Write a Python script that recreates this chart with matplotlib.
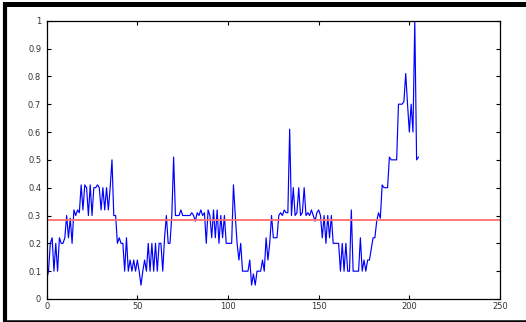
import numpy as np
import matplotlib.pyplot as plt
from matplotlib.lines import Line2D

# series values, one per sample index
signal = [
    0.07, 0.10, 0.20, 0.22, 0.10, 0.20, 0.10, 0.22, 0.20, 0.20,
    0.22, 0.30, 0.22, 0.29, 0.20, 0.32, 0.30, 0.32, 0.31, 0.41,
    0.32, 0.41, 0.40, 0.30, 0.41, 0.30, 0.40, 0.40, 0.41, 0.40,
    0.32, 0.40, 0.32, 0.40, 0.32, 0.40, 0.50, 0.30, 0.30, 0.20,
    0.22, 0.20, 0.20, 0.10, 0.22, 0.10, 0.14, 0.10, 0.14, 0.10,
    0.14, 0.10, 0.05, 0.10, 0.14, 0.10, 0.20, 0.10, 0.20, 0.10,
    0.20, 0.10, 0.20, 0.20, 0.10, 0.22, 0.30, 0.20, 0.20, 0.30,
    0.51, 0.30, 0.30, 0.30, 0.32, 0.30, 0.30, 0.30, 0.30, 0.30,
    0.31, 0.30, 0.28, 0.31, 0.30, 0.32, 0.30, 0.31, 0.20, 0.32,
    0.30, 0.22, 0.32, 0.22, 0.32, 0.20, 0.30, 0.22, 0.30, 0.20,
    0.20, 0.20, 0.20, 0.41, 0.30, 0.20, 0.14, 0.20, 0.10, 0.10,
    0.10, 0.10, 0.14, 0.05, 0.09, 0.05, 0.10, 0.10, 0.10, 0.14,
    0.10, 0.22, 0.14, 0.20, 0.30, 0.22, 0.22, 0.22, 0.30, 0.31,
    0.30, 0.32, 0.31, 0.31, 0.61, 0.30, 0.40, 0.30, 0.31, 0.40,
    0.30, 0.31, 0.40, 0.30, 0.31, 0.30, 0.32, 0.30, 0.28, 0.31,
    0.32, 0.30, 0.22, 0.30, 0.20, 0.30, 0.22, 0.30, 0.20, 0.20,
    0.20, 0.20, 0.10, 0.20, 0.10, 0.20, 0.10, 0.10, 0.32, 0.10,
    0.10, 0.10, 0.10, 0.22, 0.10, 0.14, 0.10, 0.14, 0.14, 0.18,
    0.22, 0.22, 0.28, 0.31, 0.29, 0.41, 0.40, 0.40, 0.40, 0.51,
    0.50, 0.50, 0.50, 0.50, 0.70, 0.70, 0.70, 0.71, 0.81, 0.70,
    0.60, 0.70, 0.60, 1.00, 0.50, 0.51,
]
threshold = 0.285

x_ticks = [0, 50, 100, 150, 200, 250]
y_ticks = [0, 0.1, 0.2, 0.3, 0.4, 0.5, 0.6, 0.7, 0.8, 0.9, 1]
y_labels = ["0", "0.1", "0.2", "0.3", "0.4", "0.5", "0.6", "0.7", "0.8", "0.9", "1"]

W, H = 526, 322
fig = plt.figure(figsize=(W / 100, H / 100), dpi=100)
ax = fig.add_axes([46.7 / W, 1 - 299 / H, (500 - 46.7) / W, (299 - 20.7) / H])

x = np.arange(len(signal))
ax.plot(x, signal, color="#0000ff", lw=0.85)
ax.axhline(threshold, color="#ff6e6e", lw=1.3)

ax.set_xlim(0, 250)
ax.set_ylim(0, 1)
ax.set_xticks(x_ticks)
ax.set_yticks(y_ticks)
ax.set_yticklabels(y_labels)
ax.tick_params(direction="in", length=3, width=0.8, top=True, right=True,
               labelsize=6, labelcolor="#333333")
ax.tick_params(axis="x", pad=2)
ax.tick_params(axis="y", pad=4)
for s in ax.spines.values():
    s.set_linewidth(0.9)

# outer frame of the screenshot (no right edge visible)
def px_line(x0, y0, x1, y1, lw):
    fig.add_artist(Line2D([x0 / W, x1 / W], [1 - y0 / H, 1 - y1 / H],
                          transform=fig.transFigure, color="black", lw=lw,
                          solid_capstyle="butt"))

px_line(3, 4.2, W, 4.2, 3.6)
px_line(5.3, 2.4, 5.3, 322, 3.0)
px_line(3.5, 320.8, W, 320.8, 1.8)

fig.savefig("out.png", dpi=100)
